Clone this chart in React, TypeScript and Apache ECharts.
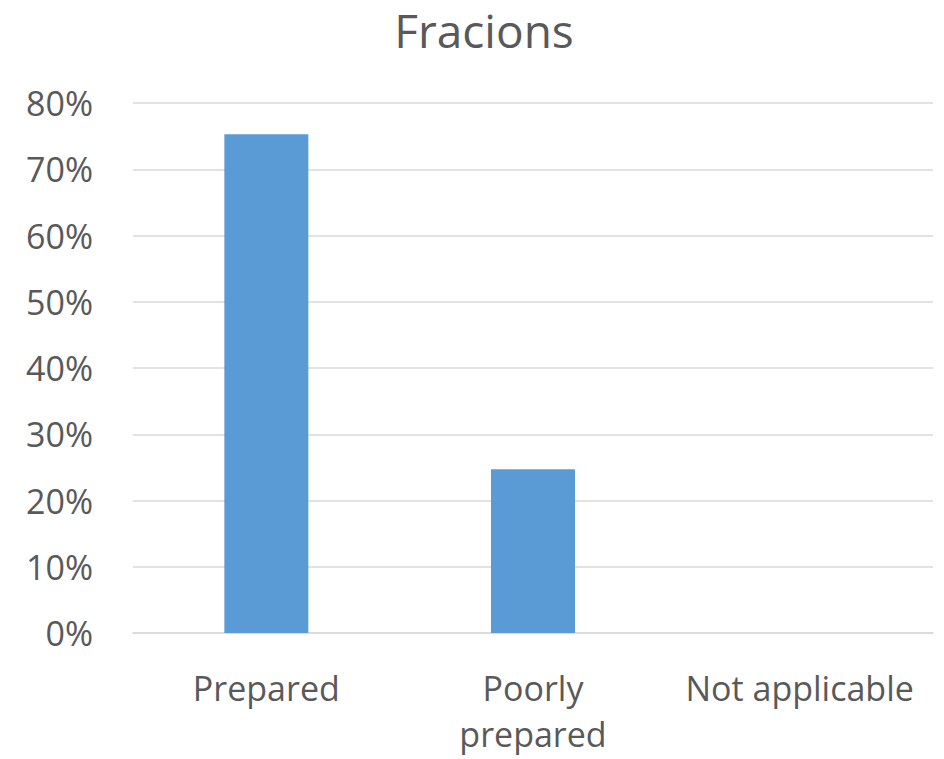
import React, { useEffect, useRef } from "react";
import * as echarts from "echarts";

const categories = ["Prepared", "Poorly\nprepared", "Not applicable"];
const values = [0.753, 0.247, 0];
const yTicks = [0, 0.1, 0.2, 0.3, 0.4, 0.5, 0.6, 0.7, 0.8];

export default function App() {
  const ref = useRef<HTMLDivElement>(null);
  useEffect(() => {
    const chart = echarts.init(ref.current!, undefined, { renderer: "svg" });
    chart.setOption({
      animation: false,
      textStyle: { fontFamily: "Open Sans" },
      title: {
        text: "Fracions",
        left: 484,
        textAlign: "center",
        top: 2,
        padding: 0,
        textStyle: { fontSize: 46, fontWeight: "normal", color: "#595959", fontFamily: "Open Sans", lineHeight: 56 },
      },
      grid: { left: 133, right: 11, top: 103, bottom: 126, outerBoundsMode: "none", containLabel: false },
      xAxis: {
        type: "category",
        data: categories,
        axisLine: { lineStyle: { color: "#d9d9d9", width: 1.5 } },
        axisTick: { show: false },
        axisLabel: {
          interval: 0,
          hideOverlap: false,
          fontSize: 34,
          color: "#595959",
          margin: 32,
          lineHeight: 46,
          fontFamily: "Open Sans",
        },
      },
      yAxis: {
        type: "value",
        min: 0,
        max: yTicks[yTicks.length - 1],
        interval: 0.1,
        axisLine: { show: false },
        axisTick: { show: false },
        splitLine: { lineStyle: { color: "#d9d9d9", width: 1.5 } },
        axisLabel: {
          fontSize: 34,
          color: "#595959",
          margin: 40,
          fontFamily: "Open Sans",
          formatter: (v: number) => Math.round(v * 100) + "%",
        },
      },
      series: [
        {
          type: "bar",
          data: values,
          barWidth: 84,
          itemStyle: { color: "#5b9bd5" },
        },
      ],
    });
    return () => chart.dispose();
  }, []);
  return <div ref={ref} style={{ width: 944, height: 759, position: "absolute", left: 0, top: 0 }} />;
}
